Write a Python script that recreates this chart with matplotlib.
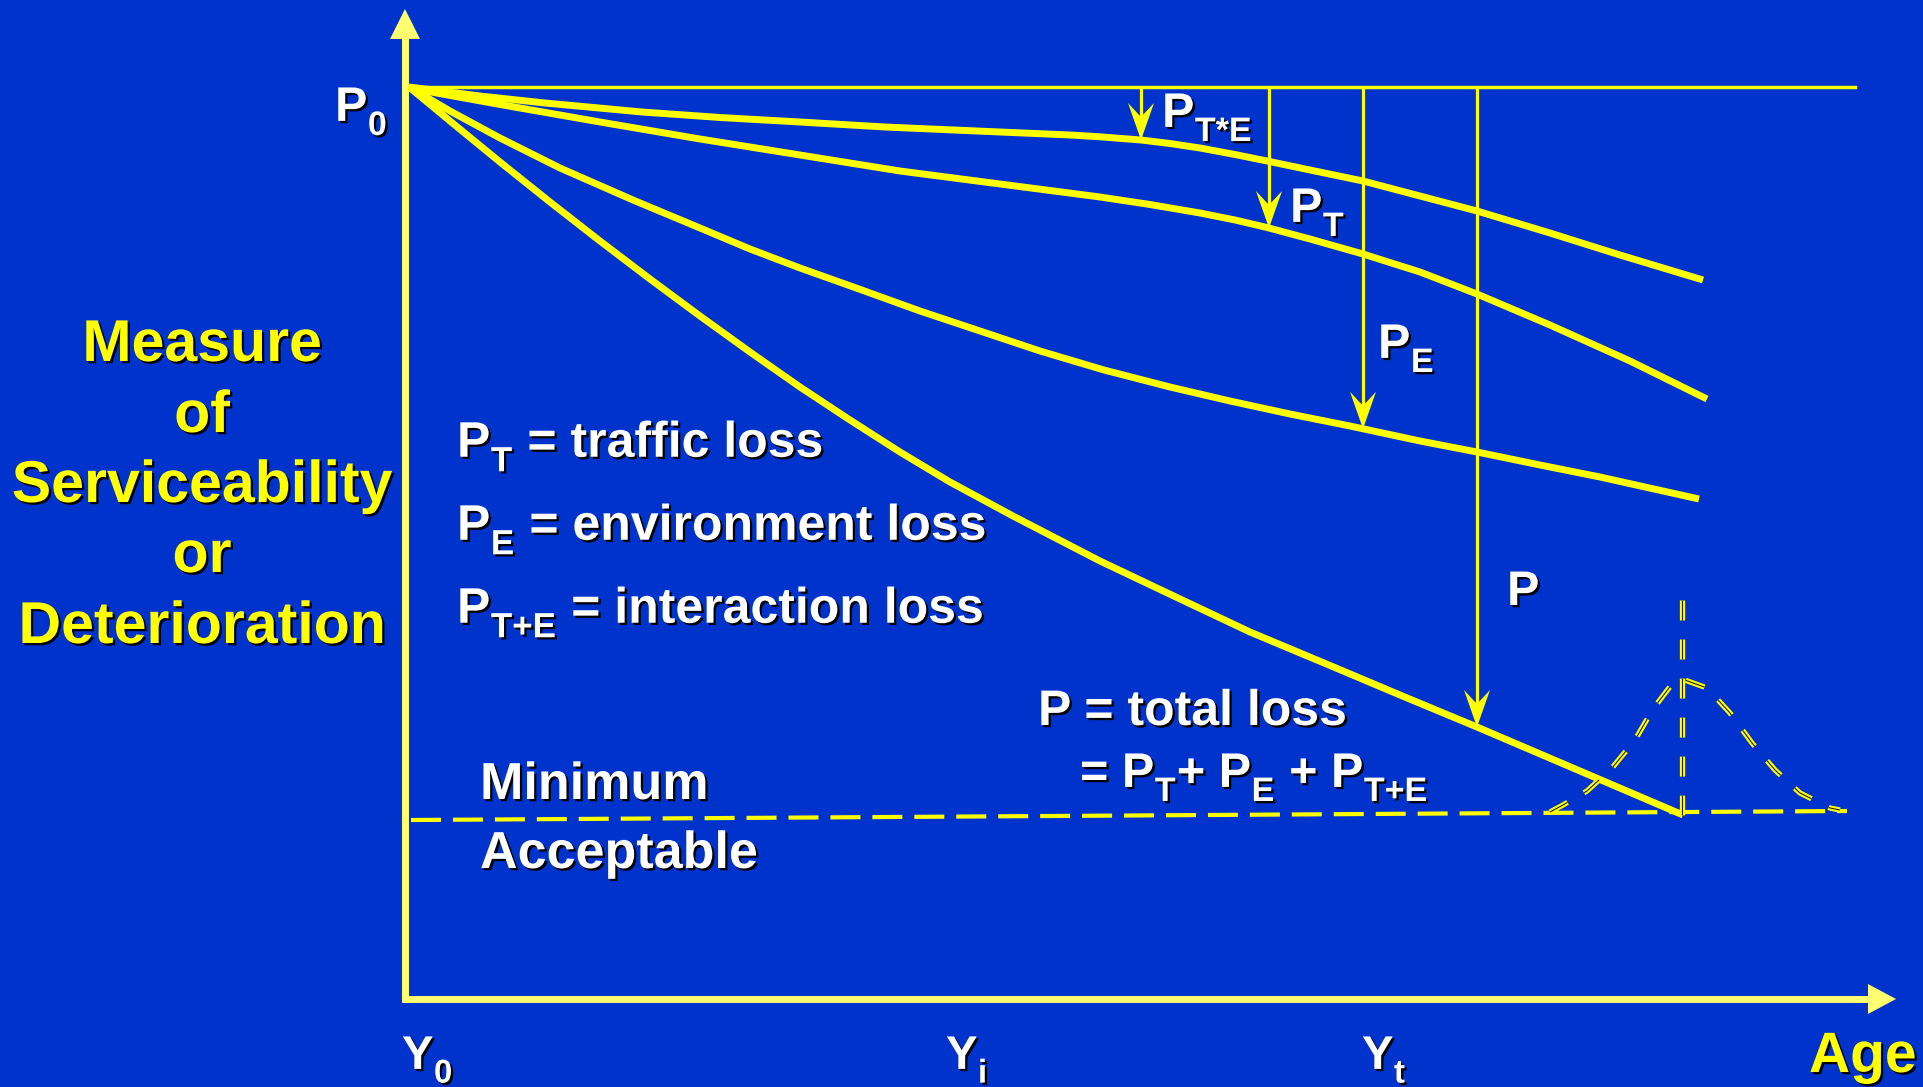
import numpy as np
import matplotlib.pyplot as plt
import matplotlib.patheffects as pe
import matplotlib._mathtext as mathtext_internals

plt.rcParams['font.family'] = 'Liberation Sans'
plt.rcParams['font.weight'] = 'bold'
plt.rcParams['mathtext.fontset'] = 'custom'
plt.rcParams['mathtext.rm'] = 'Liberation Sans:bold'
plt.rcParams['mathtext.bf'] = 'Liberation Sans:bold'
plt.rcParams['mathtext.it'] = 'Liberation Sans:bold'
plt.rcParams['mathtext.default'] = 'bf'
plt.rcParams['lines.scale_dashes'] = False
# drop subscripts a bit lower than the mathtext default
mathtext_internals.FontConstantsBase.sub1 = 0.55

BLUE = '#0033cc'
YELLOW = '#ffff00'
AXIS = '#ffff70'
WHITE = '#ffffff'

# diagram coordinates (age to the right, serviceability level drawn downward)
origin_x, origin_y = 405, 999
p0_x, p0_level = 409, 87
p0_line_end = 1855
y_axis_top = 9
x_axis_end = 1896

# serviceability curves: interaction, traffic, environment, total
pte_age = [409, 480, 545, 642, 720, 800, 885, 1000, 1070, 1100, 1141, 1170, 1200, 1235, 1267,
           1310, 1363, 1420, 1477, 1550, 1620, 1703]
pte_level = [87, 96, 103, 112, 117.5, 122, 127, 132, 135, 136.8, 140, 143.5, 148, 154.5, 161,
             170, 181, 196, 211, 233, 255, 280]

pt_age = [409, 500, 600, 700, 800, 900, 1000, 1100, 1150, 1200, 1235, 1267, 1310, 1363, 1420,
          1477, 1550, 1630, 1707]
pt_level = [88, 104.5, 122, 139, 155, 171, 184, 197, 204.5, 213, 220, 227.5, 239, 254, 272,
            294, 325, 361, 399]

pe_age = [409, 450, 500, 560, 633, 700, 750, 800, 859, 920, 980, 1040, 1104, 1170, 1230, 1290,
          1350, 1420, 1477, 1540, 1600, 1699]
pe_level = [87, 111, 138, 168, 200, 228, 249, 268, 289, 311, 331, 351, 370, 387, 401, 414,
            426, 441, 452, 465, 477, 499]

p_age = [409, 450, 500, 550, 600, 650, 700, 750, 800, 850, 900, 950, 1013, 1100, 1178,
         1250, 1336, 1400, 1477, 1580, 1683]
p_level = [87, 121, 162, 202, 241, 279, 316, 352, 387, 420, 452, 482, 516, 561, 598,
           632, 668, 695, 727, 771, 815]

# loss arrows hanging from the P0 line
arrow_age = [1141, 1269, 1363, 1477]
arrow_labels = ['P$_{T{*}E}$', 'P$_T$', 'P$_E$', 'P']
arrow_label_pos = [(1162, 127), (1290, 222), (1378, 358), (1507, 605)]

# minimum acceptable level
min_age = [411, 1847]
min_level = [820, 811]

# spread of failure age around the terminal point
dist_age = [1550, 1563, 1587, 1612, 1635, 1653, 1672, 1682, 1707, 1730, 1752, 1775, 1800, 1830, 1840]
dist_level = [812, 805, 791, 768, 740, 709, 684, 679, 688, 713, 743, 770, 793, 808, 810]
dist_mean_age = 1682
dist_top = 600

legend_lines = ['P$_T$ = traffic loss', 'P$_E$ = environment loss', 'P$_{T{+}E}$ = interaction loss']
legend_x = 457
legend_base = [457, 540, 623]

ylabel_lines = ['Measure', 'of', 'Serviceability', 'or', 'Deterioration']
ylabel_base = [361, 432, 502, 572, 643]

age_ticks = ['Y$_0$', 'Y$_i$', 'Y$_t$']
age_tick_x = [402, 946, 1362]

fig = plt.figure(figsize=(19.24, 10.87), dpi=100, facecolor=BLUE)
ax = fig.add_axes([0, 0, 1, 1])
ax.set_facecolor(BLUE)
ax.set_xlim(0, 1924)
ax.set_ylim(1087, 0)
ax.axis('off')

shadow = [pe.withSimplePatchShadow(offset=(1.6, -1.6), shadow_rgbFace='black', alpha=1.0)]

# axes with arrow heads
ax.plot([origin_x, origin_x], [origin_y + 3, y_axis_top + 28], color=AXIS, lw=5, solid_capstyle='butt')
ax.fill([origin_x - 15, origin_x + 15, origin_x], [y_axis_top + 30, y_axis_top + 30, y_axis_top], color=AXIS, lw=0)
ax.plot([origin_x - 3, x_axis_end - 27], [origin_y, origin_y], color=AXIS, lw=5, solid_capstyle='butt')
ax.fill([x_axis_end - 28, x_axis_end - 28, x_axis_end], [origin_y - 15, origin_y + 15, origin_y], color=AXIS, lw=0)

# P0 reference line
ax.plot([p0_x, p0_line_end], [p0_level, p0_level], color=YELLOW, lw=2.5)

# deterioration curves
curves = [(pte_age, pte_level), (pt_age, pt_level), (pe_age, pe_level), (p_age, p_level)]
for xs, ys in curves:
    ax.plot(xs, ys, color=YELLOW, lw=5.0, solid_capstyle='butt', solid_joinstyle='round')

# loss arrows, each ending on its curve
for xa, (cx, cy) in zip(arrow_age, curves):
    tip = np.interp(xa, cx, cy)
    ax.plot([xa, xa], [p0_level, tip - 20], color=YELLOW, lw=2.3, solid_capstyle='butt')
    ax.fill([xa, xa - 13, xa, xa + 13], [tip, tip - 37, tip - 23, tip - 37], color=YELLOW, lw=0)

# minimum acceptable line
ax.plot(min_age, min_level, color=YELLOW, lw=3, linestyle=(0, (21.6, 8.6)), dash_capstyle='butt')

# distribution of failure age
dash = (0, (14.4, 13.7))
for lw, col in [(3.8, YELLOW), (0.8, '#202020')]:
    ax.plot(dist_age, dist_level, color=col, lw=lw, linestyle=dash, dash_capstyle='butt')
    ax.plot([dist_mean_age, dist_mean_age], [dist_top, p_level[-1]], color=col, lw=lw,
            linestyle=dash, dash_capstyle='butt')

# labels
ax.text(335, 121, 'P$_0$', color=WHITE, fontsize=35, ha='left', va='baseline', path_effects=shadow)
for txt, (tx, ty) in zip(arrow_labels, arrow_label_pos):
    ax.text(tx, ty, txt, color=WHITE, fontsize=35, ha='left', va='baseline', path_effects=shadow)

for txt, yb in zip(legend_lines, legend_base):
    ax.text(legend_x, yb, txt, color=WHITE, fontsize=36, ha='left', va='baseline', path_effects=shadow)

ax.text(1038, 725, 'P = total loss', color=WHITE, fontsize=36, ha='left', va='baseline', path_effects=shadow)
ax.text(1080, 787, '= P$_T$+ P$_E$ + P$_{T{+}E}$', color=WHITE, fontsize=35, ha='left', va='baseline',
        path_effects=shadow)

ax.text(480, 799, 'Minimum', color=WHITE, fontsize=37.5, ha='left', va='baseline', path_effects=shadow)
ax.text(480, 868, 'Acceptable', color=WHITE, fontsize=37.5, ha='left', va='baseline', path_effects=shadow)

for txt, yb in zip(ylabel_lines, ylabel_base):
    ax.text(202, yb, txt, color=YELLOW, fontsize=42.5, ha='center', va='baseline', path_effects=shadow)

for txt, tx in zip(age_ticks, age_tick_x):
    ax.text(tx, 1069, txt, color=WHITE, fontsize=34, ha='left', va='baseline', path_effects=shadow)
ax.text(1809, 1072, 'Age', color=YELLOW, fontsize=41, ha='left', va='baseline', path_effects=shadow)

fig.savefig('out.png', dpi=100, facecolor=BLUE)
